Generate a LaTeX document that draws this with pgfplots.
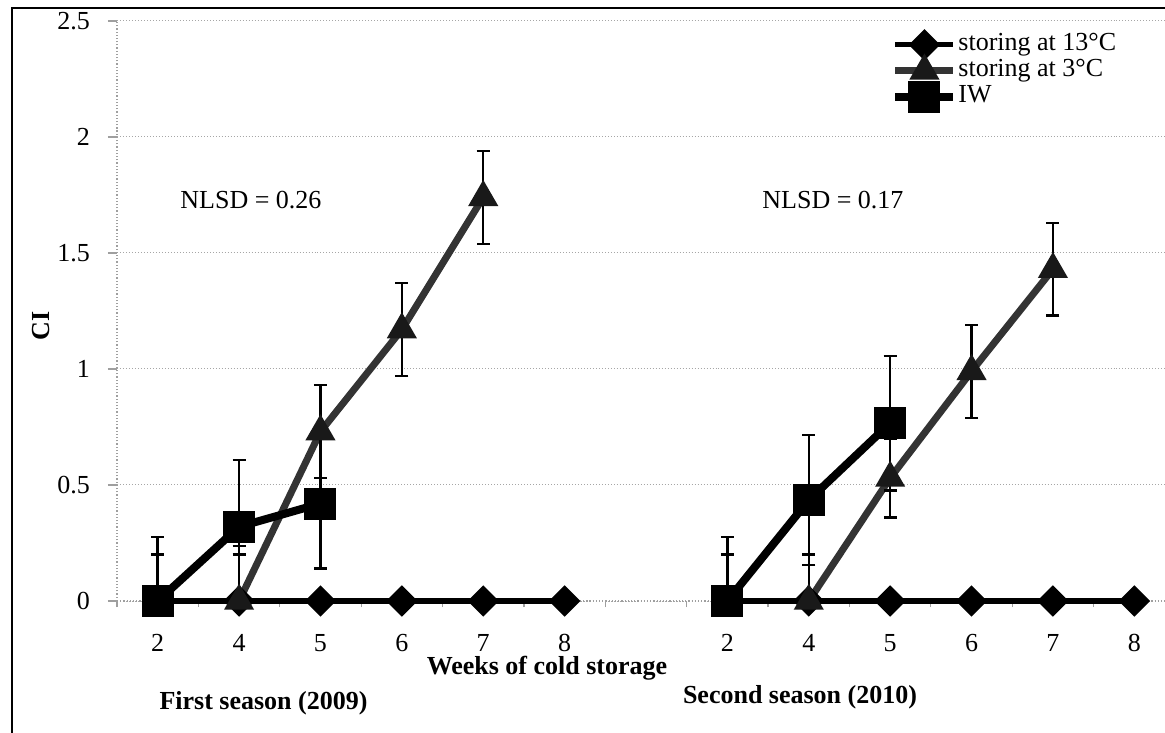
\documentclass[border=0pt]{standalone}
\usepackage{fontspec}
\setmainfont{Liberation Serif}
\usepackage{pgfplots}
\pgfplotsset{compat=1.18}

\pgfplotsset{
  ebars/.style={
    error bars/.cd,
      y dir=both, y explicit,
      error bar style={black, line width=1.2bp, solid},
      error mark options={black, rotate=90, mark size=3.25bp, line width=1.2bp, solid},
  },
}

\begin{document}
\fontsize{13bp}{15bp}\selectfont
\begin{tikzpicture}
\begin{axis}[
  at={(0,0)}, anchor=south west,
  scale only axis, width=529bp, height=290bp,
  clip=false,
  xmin=-0.5, xmax=12.5, ymin=0, ymax=2.5,
  axis x line*=bottom, axis y line*=left,
  axis line style={gray!75, line width=0.6bp, densely dotted},
  xtick={0,1,2,3,4,5,7,8,9,10,11,12},
  xticklabels={2,4,5,6,7,8,2,4,5,6,7,8},
  minor xtick={-0.5,0.5,...,12.5},
  ytick={0,0.5,...,2.5},
  ymajorgrids,
  major grid style={gray!70, line width=0.5bp, densely dotted},
  tick align=outside,
  major tick length=4.5bp, minor tick length=3bp,
  major x tick style={draw=none},
  every tick/.style={gray!75, line width=0.6bp},
  /pgf/number format/assume math mode=true,
  tick label style={font=\fontsize{13bp}{15bp}\selectfont},
  xticklabel style={anchor=base, inner sep=0pt, yshift=-20.5bp},
  yticklabel style={anchor=east, xshift=-4.5bp, /pgf/number format/fixed},
  unbounded coords=jump,
  legend style={
    at={(0.7316,0.982)}, anchor=north west,
    draw=none, fill=none, inner sep=0pt,
    font=\fontsize{13bp}{15bp}\selectfont,
    nodes={inner sep=0.5bp, text height=9bp, text depth=3bp},
    row sep=0pt, column sep=0pt,
  },
  legend cell align=left,
  legend image code/.code={%
    \draw[mark repeat=2, mark phase=2, #1]
      plot coordinates {(0bp,0bp) (14.5bp,0bp) (29bp,0bp)};},
]

% storing at 13 degrees C
\addplot[black, line width=2.5bp, mark=square*, mark size=4.3bp,
         mark options={rotate=45, solid, fill=black}, ebars]
  coordinates {
    (0,0) += (0,0.2) -= (0,0)
    (1,0) += (0,0.2) -= (0,0)
    (2,0) (3,0) (4,0) (5,0)
    (6,nan)
    (7,0) += (0,0.2) -= (0,0)
    (8,0) += (0,0.2) -= (0,0)
    (9,0) (10,0) (11,0) (12,0)
  };
\addlegendentry{storing at 13°C}

% storing at 3 degrees C
\addplot[black!80, line width=3.5bp, mark=triangle*, mark size=5.2bp,
         mark options={solid, fill=black!90, draw=black!90}, ebars]
  coordinates {
    (1,0) += (0,0.237) -= (0,0)
    (2,0.73) +- (0,0.2)
    (3,1.17) +- (0,0.2)
    (4,1.74) +- (0,0.2)
    (6,nan)
    (8,0) += (0,0.2) -= (0,0)
    (9,0.53) +- (0,0.17)
    (10,0.99) +- (0,0.2)
    (11,1.43) +- (0,0.2)
  };
\addlegendentry{storing at 3°C}

% IW
\addplot[black, line width=4bp, mark=square*, mark size=6bp,
         mark options={solid, fill=black}, ebars]
  coordinates {
    (0,0) += (0,0.277) -= (0,0)
    (1,0.32) +- (0,0.288)
    (2,0.42) +- (0,0.28)
    (6,nan)
    (7,0) += (0,0.277) -= (0,0)
    (8,0.435) +- (0,0.28)
    (9,0.767) +- (0,0.29)
  };
\addlegendentry{IW}
\end{axis}

% annotations and axis titles
\node[anchor=base west, inner sep=0pt] at (31.5bp,196bp) {NLSD = 0.26};
\node[anchor=base west, inner sep=0pt] at (322.5bp,196bp) {NLSD = 0.17};
\node[rotate=90, font=\bfseries] at (-38bp,137.5bp) {CI};
\node[font=\bfseries, inner sep=0pt] at (215bp,-33.5bp) {Weeks of cold storage};
\node[font=\bfseries, inner sep=0pt] at (73.25bp,-51bp) {First season (2009)};
\node[font=\bfseries, inner sep=0pt] at (341.5bp,-48bp) {Second season (2010)};

% chart frame
\draw[black, line width=1bp] (-52.5bp,-80bp) -- (-52.5bp,296.5bp) -- (540bp,296.5bp);

\pgfresetboundingbox
\useasboundingbox (-58.5bp,-66bp) rectangle (524bp,300.5bp);
\end{tikzpicture}
\end{document}
